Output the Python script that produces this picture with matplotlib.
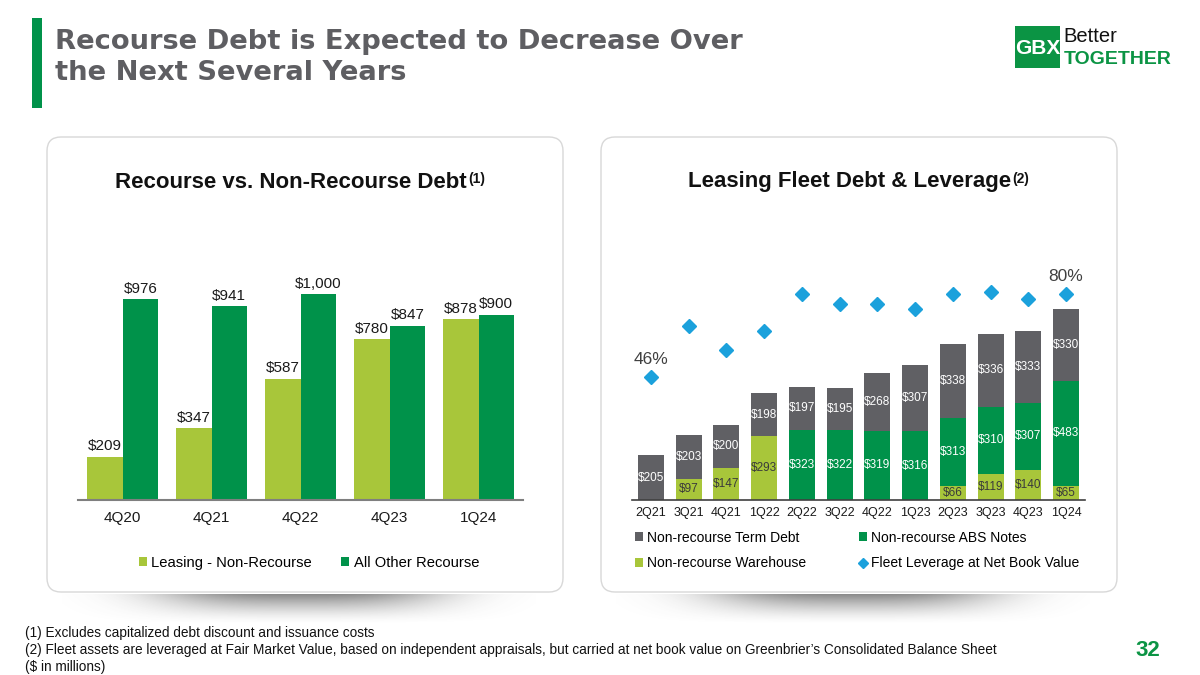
import matplotlib
matplotlib.use('Agg')
import matplotlib.pyplot as plt
import numpy as np
from matplotlib.patches import FancyBboxPatch, Rectangle

plt.rcParams['font.family'] = ['Liberation Sans', 'DejaVu Sans']

# ---------------- data ----------------
left_quarters = ['4Q20', '4Q21', '4Q22', '4Q23', '1Q24']
leasing_nonrecourse = [209, 347, 587, 780, 878]
all_other_recourse = [976, 941, 1000, 847, 900]

right_quarters = ['2Q21', '3Q21', '4Q21', '1Q22', '2Q22', '3Q22',
                  '4Q22', '1Q23', '2Q23', '3Q23', '4Q23', '1Q24']
warehouse = [0, 97, 147, 293, 0, 0, 0, 0, 66, 119, 140, 65]
abs_notes = [0, 0, 0, 0, 323, 322, 319, 316, 313, 310, 307, 483]
term_debt = [205, 203, 200, 198, 197, 195, 268, 307, 338, 336, 333, 330]
leverage = [46, 67, 57, 65, 80, 76, 76, 74, 80, 81, 78, 80]
leverage_labelled = [0, 11]

# ---------------- style ----------------
LIGHT = '#A8C63A'
GREEN = '#00924A'
GRAY = '#606064'
BLUE = '#1BA1DC'
TITLE_GRAY = '#5E5E62'
TXT = '#1A1A1A'

W, H = 1200, 675
fig = plt.figure(figsize=(12, 6.75), dpi=100)
fig.patch.set_facecolor('white')


def fr(x0, y0, x1, y1):
    return [x0 / W, 1 - y1 / H, (x1 - x0) / W, (y1 - y0) / H]


ov = fig.add_axes([0, 0, 1, 1])
ov.set_zorder(0)
ov.axis('off')


def shadow(x0, x1, y0, y1):
    nx, ny = 300, 60
    xs = np.linspace(-1, 1, nx)
    ys = np.linspace(0, 1, ny)
    X, Y = np.meshgrid(xs, ys)
    a = np.exp(-(np.abs(X) ** 3) / 0.22) * np.clip(1 - Y, 0, 1) ** 1.5
    img = np.zeros((ny, nx, 4))
    img[..., :3] = 0.30
    img[..., 3] = a * 0.66
    ov.imshow(img, extent=(x0, x1, y1, y0), origin='upper', aspect='auto',
              interpolation='bilinear', zorder=0)


shadow(62, 536, 594, 624)
shadow(616, 1090, 594, 624)

for (x0, x1) in [(47, 563), (601, 1117)]:
    p = FancyBboxPatch((x0, 137), x1 - x0, 455,
                       boxstyle='round,pad=0,rounding_size=14',
                       fc='white', ec='#D8D8D8', lw=1.0, zorder=1)
    ov.add_patch(p)

ov.set_xlim(0, W)
ov.set_ylim(H, 0)
renderer = fig.canvas.get_renderer()

# title bar and title (letter-spaced look -> wider face, fitted to width)
ov.add_patch(Rectangle((32, 18), 10, 90, fc='#00924A', ec='none', zorder=2))
t1 = ov.text(55, 42, 'Recourse Debt is Expected to Decrease Over', fontsize=20,
             fontweight='bold', color=TITLE_GRAY, va='center', ha='left',
             family='DejaVu Sans')
w1 = t1.get_window_extent(renderer).width
fs_title = 20 * 690 / w1
t1.set_fontsize(fs_title)
ov.text(55, 73, 'the Next Several Years', fontsize=fs_title,
        fontweight='bold', color=TITLE_GRAY, va='center', ha='left',
        family='DejaVu Sans')

# logo
ov.add_patch(Rectangle((1015, 26), 45, 42, fc='#0B9444', ec='none', zorder=2))
ov.text(1037.5, 48, 'GBX', fontsize=15, fontweight='bold', color='white',
        ha='center', va='center', zorder=3)
ov.text(1063, 37, 'Better', fontsize=14.5, color='#111111', ha='left',
        va='center', zorder=3)
ov.text(1064, 59, 'TOGETHER', fontsize=14, fontweight='bold', color='#0B9444',
        ha='left', va='center', zorder=3)

# footnotes
foot = ['(1) Excludes capitalized debt discount and issuance costs',
        '(2) Fleet assets are leveraged at Fair Market Value, based on independent appraisals, but carried at net book value on Greenbrier\u2019s Consolidated Balance Sheet',
        '($ in millions)']
for i, t in enumerate(foot):
    ov.text(25, 633 + 17 * i, t, fontsize=9.85, color='#111111', ha='left',
            va='center')
ov.text(1148, 651, '32', fontsize=16, fontweight='bold', color='#0B9444',
        ha='center', va='center')


def title_with_sup(cx, cy, main, sup):
    t = ov.text(cx - 8, cy, main, fontsize=16, fontweight='bold', color='#111111',
                ha='center', va='center')
    bb = t.get_window_extent(renderer)
    ov.text(bb.x1 + 1, H - bb.y1 + 1, sup, fontsize=10, fontweight='bold',
            color='#111111', ha='left', va='top')


title_with_sup(299, 182, 'Recourse vs. Non-Recourse Debt', '(1)')
title_with_sup(858, 182, 'Leasing Fleet Debt & Leverage', '(2)')

# ---------------- left chart ----------------
axl = fig.add_axes(fr(78, 260, 523, 499.5))
axl.set_zorder(2)
axl.patch.set_alpha(0)
xl = np.arange(len(left_quarters))
bw = 0.4
b1 = axl.bar(xl - bw / 2, leasing_nonrecourse, bw, color=LIGHT, label='Leasing - Non-Recourse')
b2 = axl.bar(xl + bw / 2, all_other_recourse, bw, color=GREEN, label='All Other Recourse')
for rects, vals in [(b1, leasing_nonrecourse), (b2, all_other_recourse)]:
    for r, v in zip(rects, vals):
        axl.text(r.get_x() + r.get_width() / 2, v + 18, f'${v:,}',
                 ha='center', va='bottom', fontsize=11, color=TXT)
axl.set_xlim(-0.5, len(left_quarters) - 0.5)
axl.set_ylim(0, 1167)
axl.set_xticks(xl)
axl.set_xticklabels(left_quarters, fontsize=11, color=TXT)
axl.tick_params(axis='x', length=0, pad=8)
axl.set_yticks([])
for s in ['top', 'right', 'left']:
    axl.spines[s].set_visible(False)
axl.spines['bottom'].set_color('#7F7F7F')
axl.spines['bottom'].set_linewidth(1.5)
axl.legend(handles=[b1, b2], loc='center', bbox_to_anchor=(309 / W, 1 - 563 / H),
           bbox_transform=fig.transFigure, ncol=2, frameon=False, fontsize=10.6,
           handlelength=0.55, handleheight=0.55, handletextpad=0.3, columnspacing=2.0)

# ---------------- right chart ----------------
axr = fig.add_axes(fr(632, 260, 1085, 500))
axr.set_zorder(2)
axr.patch.set_alpha(0)
xr_ = np.arange(len(right_quarters))
rw = 0.69
wh = np.array(warehouse)
ab = np.array(abs_notes)
td = np.array(term_debt)
bwh = axr.bar(xr_, wh, rw, color=LIGHT, label='Non-recourse Warehouse')
bab = axr.bar(xr_, ab, rw, bottom=wh, color=GREEN, label='Non-recourse ABS Notes')
btd = axr.bar(xr_, td, rw, bottom=wh + ab, color=GRAY, label='Non-recourse Term Debt')
for i in range(len(right_quarters)):
    if wh[i] > 0:
        axr.text(i, wh[i] / 2, f'${wh[i]}', ha='center', va='center',
                 fontsize=8.5, color='#3A3A3A')
    if ab[i] > 0:
        axr.text(i, wh[i] + ab[i] / 2, f'${ab[i]}', ha='center', va='center',
                 fontsize=8.5, color='white')
    axr.text(i, wh[i] + ab[i] + td[i] / 2, f'${td[i]}', ha='center', va='center',
             fontsize=8.5, color='white')
axr.set_xlim(-0.5, len(right_quarters) - 0.5)
axr.set_ylim(0, 1105)
axr.set_xticks(xr_)
axr.set_xticklabels(right_quarters, fontsize=9, color=TXT)
axr.tick_params(axis='x', length=0, pad=5)
axr.set_yticks([])
for s in ['top', 'right', 'left']:
    axr.spines[s].set_visible(False)
axr.spines['bottom'].set_color('#404040')
axr.spines['bottom'].set_linewidth(1.2)

ax2 = axr.twinx()
ax2.set_ylim(-4.26, 94)
lev_line, = ax2.plot(xr_, leverage, linestyle='none', marker='D', markersize=7,
                     color=BLUE, label='Fleet Leverage at Net Book Value')
for i in leverage_labelled:
    ax2.text(i, leverage[i] + 4, f'{leverage[i]}%', ha='center', va='bottom',
             fontsize=12.5, color='#404040')
ax2.set_yticks([])
for s in ['top', 'right', 'left', 'bottom']:
    ax2.spines[s].set_visible(False)

fig.legend([btd, bwh, bab, lev_line],
           ['Non-recourse Term Debt', 'Non-recourse Warehouse',
            'Non-recourse ABS Notes', 'Fleet Leverage at Net Book Value'],
           loc='upper left', bbox_to_anchor=(622 / W, 1 - 518 / H),
           ncol=2, frameon=False, fontsize=10, handlelength=0.6,
           handleheight=0.6, handletextpad=0.3, columnspacing=3.8,
           labelspacing=0.85, markerscale=0.8)

fig.savefig('out.png', dpi=100, facecolor='white')
